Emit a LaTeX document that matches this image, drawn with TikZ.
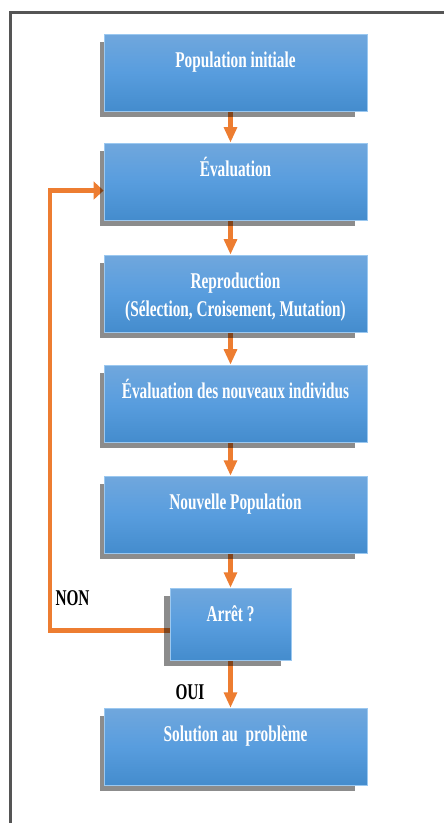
\documentclass[tikz,border=0pt]{standalone}
\usepackage{fontspec}
\setmainfont{Liberation Serif}[FakeStretch=0.68]
\usetikzlibrary{arrows.meta,positioning,shadows,backgrounds}
\definecolor{boxtop}{RGB}{112,167,221}
\definecolor{boxmid}{RGB}{88,157,222}
\definecolor{boxbot}{RGB}{68,140,205}
\definecolor{boxedge}{RGB}{155,200,240}
\definecolor{arrorange}{RGB}{237,125,49}
\definecolor{framegray}{RGB}{85,85,85}

\begin{document}
\begin{tikzpicture}[
  font=\fontsize{16}{20}\selectfont\bfseries,
  box/.style={draw=boxedge, line width=0.6pt, top color=boxtop, bottom color=boxbot,
              middle color=boxmid, text=white, align=center, minimum width=6.575cm,
              inner ysep=0pt, text height=0.8375cm, text depth=1.0875cm,
              drop shadow={shadow xshift=-0.2cm, shadow yshift=-0.175cm,
                           shadow scale=0.97, fill=black, opacity=0.45}},
  arr/.style={-{Triangle[length=11pt,width=9pt]}, line width=3.5pt, draw=arrorange},
  backarr/.style={-{Triangle[length=7pt,width=12.5pt]}, line width=3.5pt, draw=arrorange},
  answer/.style={anchor=base, text=black}
]
\useasboundingbox (0,0) rectangle (11.075,-20.575);
\draw[framegray, line width=1.8pt] (0.2575,-20.7) -- (0.2575,-0.3125) -- (11.2,-0.3125);

\node[box] (pop) at (5.8875,-1.8125) {Population initiale};
\node[box, below=0.78cm of pop]     (eval)    {Évaluation};
\node[box, text height=1.54cm, text depth=0.385cm,
      below=0.855cm of eval]        (repro)   {Reproduction\\(Sélection, Croisement, Mutation)};
\node[box, below=0.805cm of repro]  (evalnew) {Évaluation des nouveaux individus};
\node[box, below=0.83cm of evalnew] (newpop)  {Nouvelle Population};
\node[box, minimum width=3.025cm, text depth=0.9625cm,
      below=0.855cm of newpop, xshift=-0.125cm] (stop) {Arrêt ?};
\node[box, below=1.18cm of stop, xshift=0.125cm] (sol) {Solution au~ problème};

\node[answer] (non) at (1.8125,-15.125) {NON};
\node[answer] (oui) at (4.75,-17.475)   {OUI};

% arrows go under the boxes so the shadows darken them
\coordinate (turn) at (1.25,-15.75);
\begin{scope}[on background layer]
  \draw[arr] (pop.south -| stop)     -- (eval.north -| stop);
  \draw[arr] (eval.south -| stop)    -- (repro.north -| stop);
  \draw[arr] (repro.south -| stop)   -- (evalnew.north -| stop);
  \draw[arr] (evalnew.south -| stop) -- (newpop.north -| stop);
  \draw[arr] (newpop.south -| stop)  -- (stop.north);
  \draw[arr] (stop.south)            -- (sol.north -| stop);
  \draw[backarr] ([yshift=-0.15cm]stop.west) -| ([yshift=-0.225cm]eval.west -| turn)
        -- ([yshift=-0.225cm]eval.west);
\end{scope}
\end{tikzpicture}
\end{document}
